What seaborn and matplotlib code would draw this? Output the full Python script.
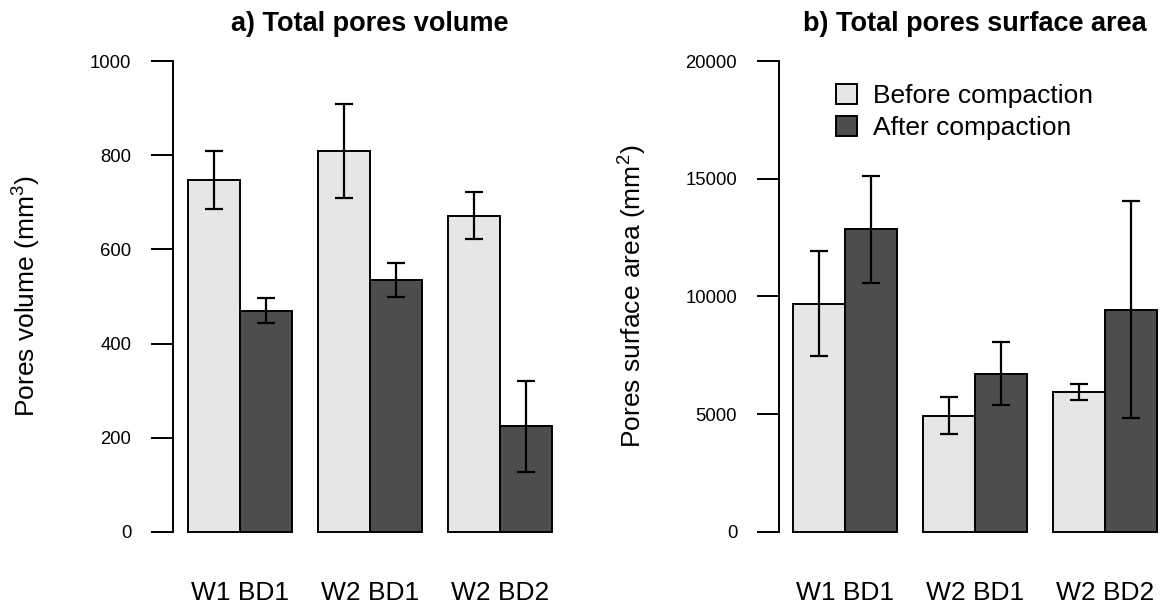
import matplotlib
matplotlib.use("Agg")
import matplotlib.pyplot as plt
from matplotlib.patches import Patch
import seaborn as sns
import pandas as pd

# ---- data ----
sites = ["W1 BD1", "W2 BD1", "W2 BD2"]
conditions = ["Before compaction", "After compaction"]

volume_before = [747, 809, 672]
volume_after = [470, 535, 224]
volume_before_err = [61, 100, 50]
volume_after_err = [26, 37, 97]

area_before = [9700, 4943, 5945]
area_after = [12853, 6726, 9443]
area_before_err = [2230, 785, 325]
area_after_err = [2270, 1344, 4613]

titles = ["a) Total pores volume", "b) Total pores surface area"]
ylabels = [r"Pores volume (mm$^3$)", r"Pores surface area (mm$^2$)"]
yticks_list = [[0, 200, 400, 600, 800, 1000], [0, 5000, 10000, 15000, 20000]]

colors = {"Before compaction": "#E6E6E6", "After compaction": "#4D4D4D"}

sns.set_theme(style="white")
plt.rcParams["font.family"] = ["Liberation Sans", "DejaVu Sans"]
plt.rcParams["mathtext.fontset"] = "custom"
plt.rcParams["mathtext.rm"] = "Liberation Sans"
plt.rcParams["mathtext.it"] = "Liberation Sans"
for k in ["text.color", "axes.labelcolor", "xtick.color", "ytick.color"]:
    plt.rcParams[k] = "black"

W, H = 1163, 612
fig = plt.figure(figsize=(W / 100, H / 100), dpi=100)

ax_w = 393.2 / W
ax_h = 508.6 / H
ax_b = (H - 550.8) / H
ax1 = fig.add_axes([173 / W, ax_b, ax_w, ax_h])
ax2 = fig.add_axes([778.7 / W, ax_b, ax_w, ax_h])


def make_df(before, after):
    return pd.DataFrame({
        "site": sites * 2,
        "condition": [conditions[0]] * 3 + [conditions[1]] * 3,
        "value": list(before) + list(after),
    })


panels = [
    (ax1, volume_before, volume_after, volume_before_err, volume_after_err, 1000),
    (ax2, area_before, area_after, area_before_err, area_after_err, 20000),
]

for i, (ax, b, a, be, ae, top) in enumerate(panels):
    df = make_df(b, a)
    sns.barplot(data=df, x="site", y="value", hue="condition", order=sites,
                hue_order=conditions, palette=colors, saturation=1,
                edgecolor="black", linewidth=1.4, errorbar=None, width=0.8,
                legend=False, ax=ax)
    errs = [be, ae]
    for cont, err in zip(ax.containers, errs):
        xs = [p.get_x() + p.get_width() / 2 for p in cont.patches]
        ys = [p.get_height() for p in cont.patches]
        ax.errorbar(xs, ys, yerr=err, fmt="none", ecolor="black",
                    elinewidth=1.6, capsize=6.8, capthick=1.6, zorder=5,
                    clip_on=False)
    pad = 0.04 * top
    ax.set_ylim(-pad, top + pad)
    ax.set_xlim(-0.512, 2.512)
    ax.set_yticks(yticks_list[i])
    ax.set_yticklabels([str(t) for t in yticks_list[i]])
    for s in ["top", "right", "bottom"]:
        ax.spines[s].set_visible(False)
    ax.spines["left"].set_bounds(0, top)
    ax.spines["left"].set_linewidth(1.4)
    ax.spines["left"].set_color("black")
    ax.tick_params(axis="y", direction="out", length=15.5, width=1.4,
                   color="black", labelcolor="black", pad=14.4,
                   labelsize=13.3, left=True)
    ax.tick_params(axis="x", length=0, pad=22, labelsize=19,
                   labelcolor="black")
    ax.set_xlabel("")
    ax.set_ylabel(ylabels[i], fontsize=19, color="black")
    ax.yaxis.set_label_coords(-0.331, 0.5)
    ax.set_title(titles[i], fontsize=19.5, fontweight="bold", pad=8,
                 color="black")
    ax.set_facecolor("white")

handles = [Patch(facecolor=colors[c], edgecolor="black", linewidth=1.4) for c in conditions]
fig.legend(handles, conditions, loc="upper left",
           bbox_to_anchor=(836 / W, 1 - 84 / H), bbox_transform=fig.transFigure,
           frameon=False, fontsize=19, handlelength=0.8, handleheight=0.8,
           handletextpad=0.6, labelspacing=0.3, borderpad=0, borderaxespad=0,
           labelcolor="black")

fig.savefig("out.png", dpi=100)
